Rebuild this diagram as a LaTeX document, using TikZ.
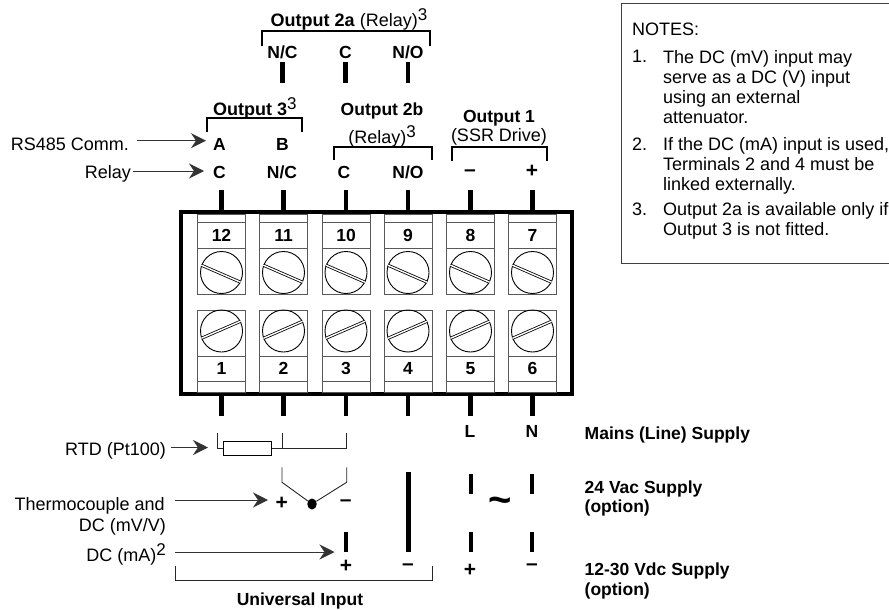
\documentclass[tikz,border=0pt]{standalone}
\usepackage{fontspec}
\setmainfont{Liberation Sans}
\usetikzlibrary{arrows.meta,shapes.geometric}
\tikzset{
    lbl/.style={font=\fontsize{18}{20}\selectfont,inner sep=0pt},
    blbl/.style={font=\fontsize{17.5}{20}\selectfont\bfseries,inner sep=0pt},
    sgn/.style={font=\fontsize{21}{20}\selectfont\bfseries,inner sep=0pt},
    pin/.style={line width=4.4pt},
    brk/.style={line width=2pt},
    thin wire/.style={line width=0.9pt,black!85},
    arr/.style={line width=1pt,black!80,-{Stealth[length=15pt,width=15pt,inset=5pt]}},
    cell/.style={line width=1pt,black!65}
}
\newcommand{\supn}[1]{\raisebox{6pt}{\fontsize{17}{20}\selectfont\mdseries #1}}
\begin{document}
\begin{tikzpicture}[x=1pt,y=-1pt]
    \useasboundingbox (0,0) rectangle (889,610);

    % terminal block
    \node[draw,line width=4pt,minimum width=391pt,minimum height=182pt,inner sep=0pt] at (376.7,303) (frame) {};
    \foreach \n/\m/\x in {12/1/221.5,11/2/283.5,10/3/346,9/4/408,8/5/470.5,7/6/532.5} {
        \node[blbl] at (\x,235.5) (T\n) {\n};
        \node[blbl] at (\x,368.5) (T\m) {\m};
        \draw[cell] (\x-24,214) rectangle (\x+24,294);
        \draw[cell] (\x-24,222.5) -- (\x+24,222.5);
        \draw[cell] (\x-24,248) -- (\x+24,248);
        \draw[cell] (\x-24,310) rectangle (\x+24,392);
        \draw[cell] (\x-24,356) -- (\x+24,356);
        \draw[cell] (\x-24,381.5) -- (\x+24,381.5);
        % screws
        \node[draw,circle,line width=0.9pt,minimum size=42pt,inner sep=0pt] at (\x,272.5) (S\n) {};
        \node[draw,circle,line width=0.9pt,minimum size=42pt,inner sep=0pt] at (\x,331) (S\m) {};
        \draw[line width=3pt] (S\n.160) -- (S\n.-27);
        \draw[line width=1.4pt,white] (S\n.160) -- (S\n.-27);
        \draw[line width=3pt] (S\m.200) -- (S\m.27);
        \draw[line width=1.4pt,white] (S\m.200) -- (S\m.27);
        \draw[pin] (T\n |- frame.north) -- ++(0,-20);
        \draw[pin] (T\m |- frame.south) -- ++(0,20);
    }

    % outputs
    \node[lbl,anchor=base west] at (270.5,27) (Out2a) {\textbf{Output 2a} (Relay)\supn{3}};
    \coordinate (B2aL) at (261.5,46.5);
    \coordinate (B2aR) at (430,46.5);
    \draw[brk] (B2aL) -- ++(0,-15) -| (B2aR);
    \node[blbl] at (282.5,52) (NCa) {N/C};
    \node[blbl] at (345.5,52) (Ca) {C};
    \node[blbl] at (408,52) (NOa) {N/O};
    \foreach \a in {NCa,Ca,NOa} {
        \draw[pin] (\a.south) ++(0,3.5) -- ++(0,21);
    }

    \node[lbl,anchor=base west] at (213,115) (Out3) {\textbf{Output 3}\supn{3}};
    \coordinate (B3L) at (207,132);
    \coordinate (B3R) at (302,132);
    \draw[brk] (B3L) -- ++(0,-14.5) -| (B3R);
    \node[blbl] at (382,110.5) (Out2b) {Output 2b};
    \node[lbl,anchor=base] at (382,143) (Rel2b) {(Relay)\supn{3}};
    \coordinate (B2bL) at (333.5,160);
    \coordinate (B2bR) at (432,160);
    \draw[brk] (B2bL) -- ++(0,-13.5) -| (B2bR);
    \node[blbl] at (499,118) (Out1) {Output 1};
    \node[lbl] at (499,137) (SSR) {(SSR Drive)};
    \coordinate (B1L) at (452,160.5);
    \coordinate (B1R) at (547,160.5);
    \draw[brk] (B1L) -- ++(0,-14) -| (B1R);

    \node[blbl] at (219.5,144) (A) {A};
    \node[blbl] at (282.5,144) (B) {B};
    \node[blbl] at (219.5,172) (C3) {C};
    \node[blbl] at (282,172) (NC3) {N/C};
    \node[blbl] at (344,172) (Cb) {C};
    \node[blbl] at (408,172) (NOb) {N/O};
    \node[sgn] at (470,173) (Minus1) {--};
    \node[sgn] at (532,171.5) (Plus1) {+};

    \node[lbl,anchor=base east] at (129,150) (RS) {RS485 Comm.};
    \coordinate (RSend) at (206,140.7);
    \draw[arr] (RS.east |- RSend) ++(8,0) -- (RSend);
    \node[lbl,anchor=base east] at (131,178) (Rly) {Relay};
    \coordinate (Rlyend) at (204,171);
    \draw[arr] (Rly.east |- Rlyend) ++(2,0) -- (Rlyend);

    % input side
    \node[lbl,anchor=base east] at (166,455) (RTD) {RTD (Pt100)};
    \coordinate (RTDend) at (208,447.5);
    \draw[arr] (RTD.east |- RTDend) ++(5,0) -- (RTDend);
    \node[draw,line width=0.9pt,minimum width=48.5pt,minimum height=14pt,inner sep=0pt] at (247.5,448.3) (Res) {};
    \coordinate (Wa) at (217.7,448.3);
    \coordinate (Wb) at (282,448.3);
    \coordinate (Wc) at (346.7,448.3);
    \draw[thin wire] (Res.west) -- (Wa) -- ++(0,-15.5);
    \draw[thin wire] (Res.east) -- (Wc) -- ++(0,-15.5);
    \draw[thin wire] (Wb) -- ++(0,-15.5);

    \node[fill,ellipse,inner sep=0pt,minimum width=9.5pt,minimum height=11pt] at (312,504) (TC) {};
    \coordinate (TCa) at (282,482.3);
    \coordinate (TCb) at (346.7,482.3);
    \draw[thin wire] (TC) -- (TCa) -- ++(0,-15);
    \draw[thin wire] (TC) -- (TCb) -- ++(0,-15);
    \node[sgn] at (281.7,503) (Plus2) {+};
    \node[sgn] at (345.7,503) (Minus2) {--};
    \node[lbl,anchor=base east] at (165,510) (TC1) {Thermocouple and};
    \node[lbl,anchor=base east] at (166,531) (TC2) {DC (mV/V)};
    \coordinate (TCend) at (268,500);
    \draw[arr] (TC1.east |- TCend) ++(10,0) -- (TCend);

    \node[lbl,anchor=base east] at (166,561) (mA) {DC (mA)\supn{2}};
    \coordinate (mAend) at (334.5,552);
    \draw[arr] (mA.east |- mAend) ++(9,0) -- (mAend);

    \foreach \n/\x/\y in {a/346/532,b/408.5/472,c/471/474,d/532/474,e/471/532,f/532/532} {
        \coordinate (Top\n) at (\x,\y);
    }
    \draw[pin] (Topa) -- ++(0,20);
    \draw[pin] (Topb) -- ++(0,80);
    \draw[pin] (Topc) -- ++(0,20);
    \draw[pin] (Topd) -- ++(0,20);
    \draw[pin] (Tope) -- ++(0,20);
    \draw[pin] (Topf) -- ++(0,20);

    \node[sgn] at (346,566.5) (Plus3) {+};
    \node[sgn] at (408,567) (Minus3) {--};
    \coordinate (UL) at (175.7,565.5);
    \coordinate (UR) at (432.3,565.5);
    \draw[thin wire] (UL) -- ++(0,15) -| (UR);
    \node[blbl] at (300,600.5) (UI) {Universal Input};

    % supply side
    \node[blbl] at (470,431) (L) {L};
    \node[blbl] at (532,431) (N) {N};
    \node[lbl,font=\fontsize{40}{40}\selectfont\bfseries] at (500,505) (Tilde) {\textasciitilde};
    \node[sgn] at (470,570.5) (Plus4) {+};
    \node[sgn] at (532,567.5) (Minus4) {--};
    \node[blbl,anchor=base west] at (584.5,439) (Mains) {Mains (Line) Supply};
    \node[blbl,anchor=base west] at (584.5,493) (V24) {24 Vac Supply};
    \node[blbl,anchor=base west] at (584.5,512) (V24b) {(option)};
    \node[blbl,anchor=base west] at (584.5,575) (V12) {12-30 Vdc Supply};
    \node[blbl,anchor=base west] at (584.5,595) (V12b) {(option)};

    % notes
    \coordinate (NA) at (889,4);
    \coordinate (NB) at (889,263);
    \coordinate (NL) at (621,0);
    \draw[line width=1pt,black!75] (NA) -- (NA -| NL) -- (NB -| NL) -- (NB);
    \node[lbl,anchor=base west] at (632,36) (Notes) {NOTES:};
    \node[lbl,anchor=base west] at (632,63) (N1) {1.};
    \node[lbl,anchor=north west,align=left] at (663,50) (N1t) {The DC (mV) input may\\serve as a DC (V) input\\using an external\\attenuator.};
    \node[lbl,anchor=base west] at (632,150) (N2) {2.};
    \node[lbl,anchor=north west,align=left] at (663,137) (N2t) {If the DC (mA) input is used,\\Terminals 2 and 4 must be\\linked externally.};
    \node[lbl,anchor=base west] at (632,215) (N3) {3.};
    \node[lbl,anchor=north west,align=left] at (663,202) (N3t) {Output 2a is available only if\\Output 3 is not fitted.};
\end{tikzpicture}
\end{document}
